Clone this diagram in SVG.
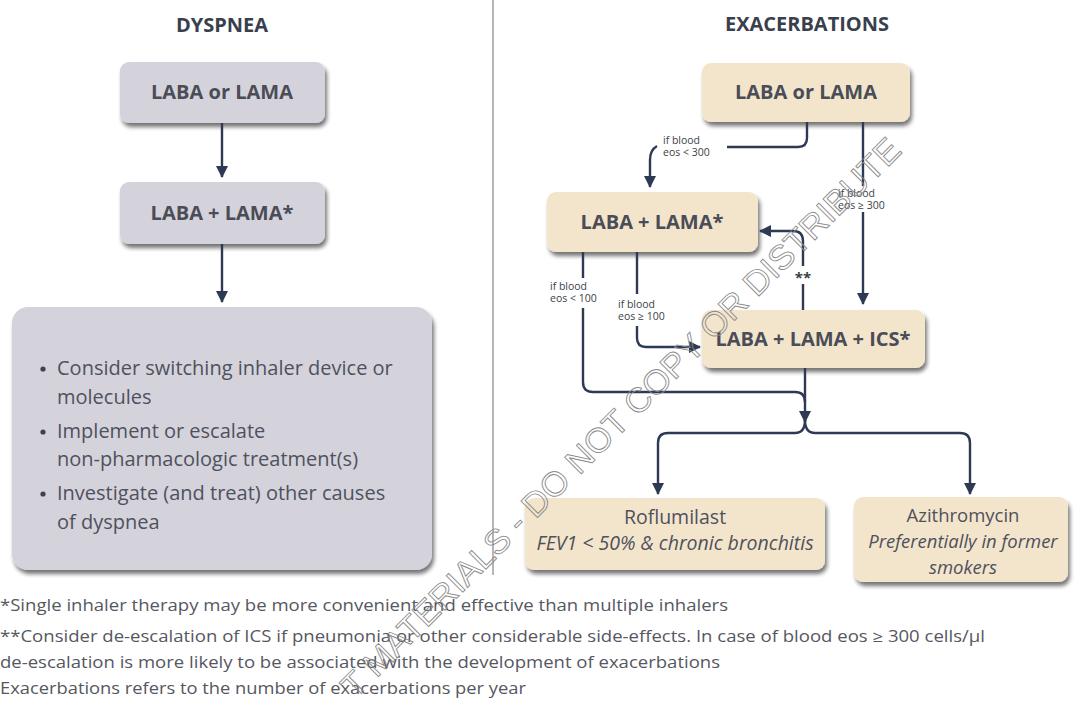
<svg xmlns="http://www.w3.org/2000/svg" width="1075" height="704" viewBox="0 0 1075 704">
<defs>
<style>
.title{font-family:"Open Sans","Liberation Sans",sans-serif;font-weight:bold;font-size:20px;fill:#3a3f4e;text-anchor:middle}
.gbox{fill:#d4d3dc}
.bbox{fill:#f3e5cc}
.lbl{font-family:"Open Sans","Liberation Sans",sans-serif;font-weight:bold;font-size:20px;fill:#4a4c56;text-anchor:middle}
.bul{font-family:"Open Sans","Liberation Sans",sans-serif;font-size:20px;fill:#4f515c}
.dot{fill:#3f414b}
.sub{font-family:"Open Sans","Liberation Sans",sans-serif;font-size:18.5px;fill:#4f515c;text-anchor:middle}
.it{font-style:italic}
.small{font-family:"Open Sans","Liberation Sans",sans-serif;font-size:10.5px;fill:#3c3f48}
.foot{font-family:"Open Sans","Liberation Sans",sans-serif;font-size:15.5px;fill:#555761}
.conn path{fill:none;stroke:#2e3954;stroke-width:2.4}
.wm{font-family:"Liberation Sans",sans-serif;font-size:34px;fill:none;stroke:#8a8a8a;stroke-width:0.9}
</style>
<filter id="sh" x="-10%" y="-10%" width="125%" height="135%">
<feGaussianBlur in="SourceAlpha" stdDeviation="2"/>
<feOffset dx="2" dy="4" result="o"/>
<feComponentTransfer><feFuncA type="linear" slope="0.55"/></feComponentTransfer>
<feMerge><feMergeNode/><feMergeNode in="SourceGraphic"/></feMerge>
</filter>
<marker id="ah" viewBox="0 0 12 12" refX="11" refY="6" markerWidth="12" markerHeight="12" markerUnits="userSpaceOnUse" orient="auto">
<path d="M0,0 L12,6 L0,12 Z" fill="#2e3954"/>
</marker>
</defs>
<rect width="1075" height="704" fill="#ffffff"/>

<text class="title" x="222" y="32">DYSPNEA</text>
<text class="title" x="807" y="31">EXACERBATIONS</text>
<line x1="493" y1="0" x2="493" y2="575" stroke="#8e8e92" stroke-width="1.3"/>

<g id="d-laba-or-lama">
<rect class="gbox" x="120" y="62" width="205" height="61" rx="9" filter="url(#sh)"/>
<text class="lbl" x="222" y="99">LABA or LAMA</text>
</g>
<g id="d-laba-lama">
<rect class="gbox" x="120" y="182" width="205" height="62" rx="9" filter="url(#sh)"/>
<text class="lbl" x="222" y="220">LABA + LAMA*</text>
</g>
<g id="d-consider">
<rect class="gbox" x="12" y="307" width="420" height="263" rx="16" filter="url(#sh)"/>
<circle class="dot" cx="43" cy="369" r="2.6"/>
<circle class="dot" cx="43" cy="432" r="2.6"/>
<circle class="dot" cx="43" cy="494" r="2.6"/>
<text class="bul" x="57" y="375">Consider switching inhaler device or</text>
<text class="bul" x="57" y="404">molecules</text>
<text class="bul" x="57" y="438">Implement or escalate</text>
<text class="bul" x="57" y="466">non-pharmacologic treatment(s)</text>
<text class="bul" x="57" y="500">Investigate (and treat) other causes</text>
<text class="bul" x="57" y="529">of dyspnea</text>
</g>

<g id="e-laba-or-lama">
<rect class="bbox" x="702" y="63" width="208" height="59" rx="9" filter="url(#sh)"/>
<text class="lbl" x="806" y="99">LABA or LAMA</text>
</g>
<g id="e-laba-lama">
<rect class="bbox" x="547" y="192" width="211" height="60" rx="9" filter="url(#sh)"/>
<text class="lbl" x="652" y="229">LABA + LAMA*</text>
</g>
<g id="e-laba-lama-ics">
<rect class="bbox" x="702" y="310" width="223" height="58" rx="9" filter="url(#sh)"/>
<text class="lbl" x="813" y="346">LABA + LAMA + ICS*</text>
</g>
<g id="e-roflumilast">
<rect class="bbox" x="525" y="498" width="300" height="72" rx="9" filter="url(#sh)"/>
<text class="sub" x="675" y="524" style="font-size:19.5px">Roflumilast</text>
<text class="sub it" x="675" y="550" style="font-size:19.5px">FEV1 &lt; 50% &amp; chronic bronchitis</text>
</g>
<g id="e-azithromycin">
<rect class="bbox" x="854" y="497" width="214" height="85" rx="9" filter="url(#sh)"/>
<text class="sub" x="963" y="522">Azithromycin</text>
<text class="sub it" x="963" y="548">Preferentially in former</text>
<text class="sub it" x="963" y="574">smokers</text>
</g>

<g id="connectors" class="conn">
<path d="M222,123 V177" marker-end="url(#ah)"/>
<path d="M222,244 V302" marker-end="url(#ah)"/>
<path d="M807,122 V138 Q807,147 798,147 H727"/>
<path d="M657,146 Q650,150 650,160 V187" marker-end="url(#ah)"/>
<path d="M863,122 V186"/>
<path d="M863,212 V304" marker-end="url(#ah)"/>
<path d="M803,310 V284"/>
<path d="M803,266 V241 Q803,231 793,231 H760" marker-end="url(#ah)"/>
<path d="M583,252 V278"/>
<path d="M583,308 V382 Q583,392 593,392 H795 Q805,392 805,402"/>
<path d="M637,252 V294"/>
<path d="M637,326 V338 Q637,347 646,347 H700" marker-end="url(#ah)"/>
<path d="M805,368 V422" marker-end="url(#ah)"/>
<path d="M805,420 Q805,433 795,433 H668 Q658,433 658,443 V494" marker-end="url(#ah)"/>
<path d="M805,420 Q805,433 815,433 H960 Q970,433 970,443 V494" marker-end="url(#ah)"/>
</g>
<g id="edge-labels">
<text class="small" x="663" y="144">if blood</text>
<text class="small" x="663" y="156">eos &lt; 300</text>
<text class="small" x="838" y="197">if blood</text>
<text class="small" x="838" y="209">eos ≥ 300</text>
<text class="small" x="550" y="290">if blood</text>
<text class="small" x="550" y="302">eos &lt; 100</text>
<text class="small" x="618" y="308">if blood</text>
<text class="small" x="618" y="320">eos ≥ 100</text>
<text class="small" x="803" y="283" text-anchor="middle" style="font-size:15px;font-weight:bold">**</text>
</g>

<text class="foot" x="0" y="611" textLength="728" lengthAdjust="spacingAndGlyphs">*Single inhaler therapy may be more convenient and effective than multiple inhalers</text>
<text class="foot" x="0" y="642" textLength="985" lengthAdjust="spacingAndGlyphs">**Consider de-escalation of ICS if pneumonia or other considerable side-effects. In case of blood eos ≥ 300 cells/µl</text>
<text class="foot" x="0" y="668" textLength="720" lengthAdjust="spacingAndGlyphs">de-escalation is more likely to be associated with the development of exacerbations</text>
<text class="foot" x="0" y="694" textLength="526" lengthAdjust="spacingAndGlyphs">Exacerbations refers to the number of exacerbations per year</text>

<text class="wm" x="355" y="700" transform="rotate(-45 355 700)" textLength="775" lengthAdjust="spacingAndGlyphs">T MATERIALS - DO NOT COPY OR DISTRIBUTE</text>
</svg>
